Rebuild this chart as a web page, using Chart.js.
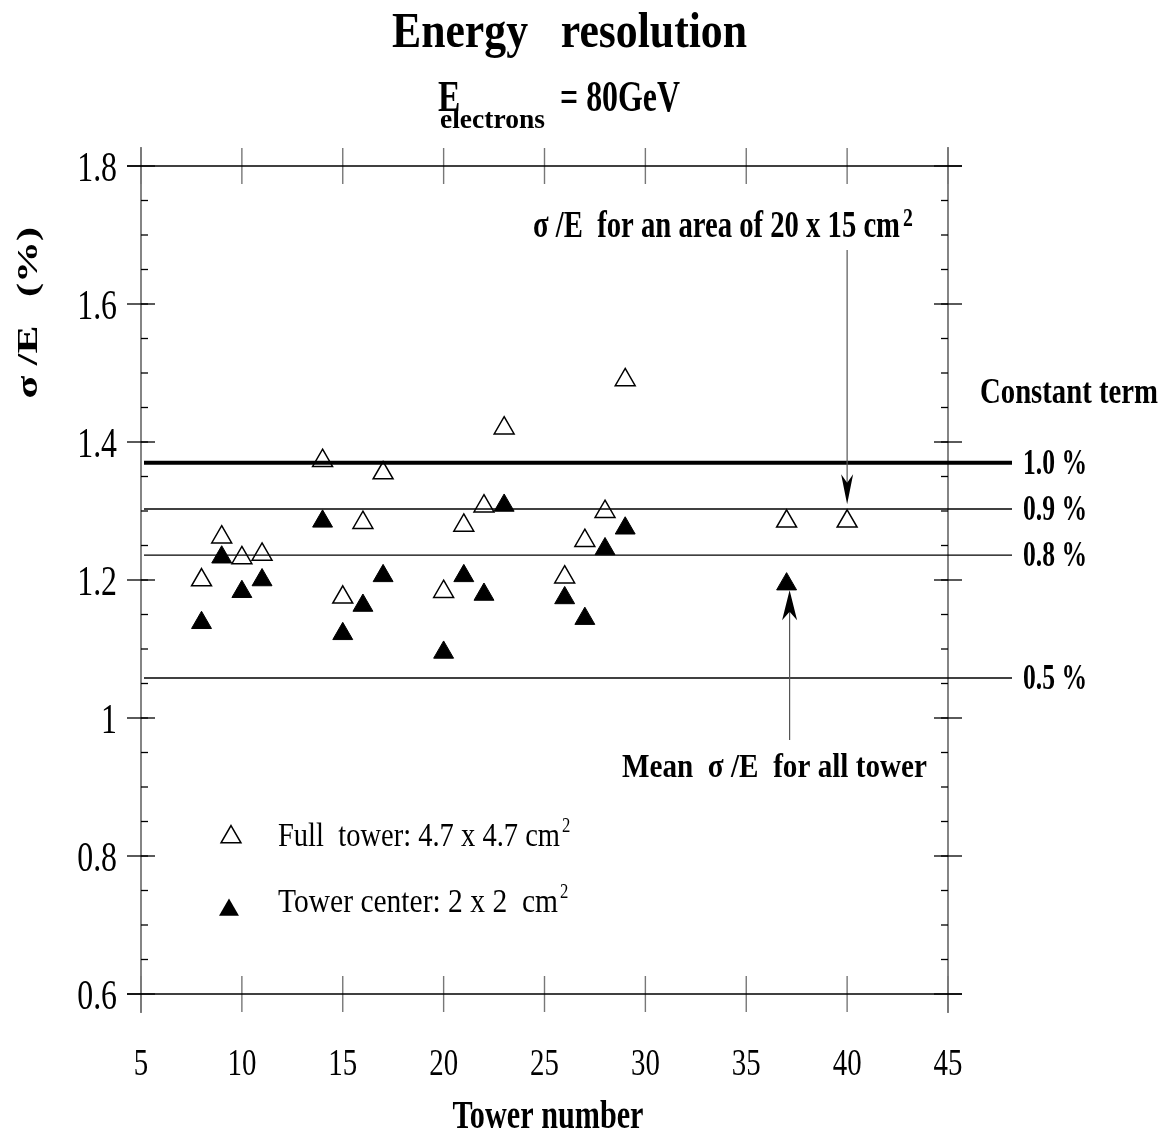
<!DOCTYPE html>
<html>
<head>
<meta charset="utf-8">
<title>Energy resolution</title>
<script src="https://cdn.jsdelivr.net/npm/chart.js@4.4.1/dist/chart.umd.min.js"></script>
<style>
    html, body { margin: 0; padding: 0; background: #ffffff; }
    #wrap { width: 1168px; height: 1137px; position: relative; }
</style>
</head>
<body>
<div id="wrap"><canvas id="resChart" width="1168" height="1137"></canvas></div>
<script>
// Tower numbers and sigma/E (%) values
const fullTowers   = [8, 9, 10, 11, 14, 15, 16, 17, 20, 21, 22, 23, 26, 27, 28, 29, 37, 40];
const fullValues   = [1.200, 1.262, 1.232, 1.237, 1.373, 1.175, 1.283, 1.355, 1.183, 1.279, 1.307, 1.420, 1.204, 1.257, 1.299, 1.490, 1.285, 1.285];
const centerTowers = [8, 9, 10, 11, 14, 15, 16, 17, 20, 21, 22, 23, 26, 27, 28, 29, 37];
const centerValues = [1.138, 1.233, 1.183, 1.200, 1.285, 1.122, 1.163, 1.206, 1.095, 1.206, 1.179, 1.308, 1.174, 1.144, 1.245, 1.275, 1.194];

// Constant term reference lines
const constLevels = [1.370, 1.303, 1.236, 1.058];
const constLabels = ['1.0 %', '0.9 %', '0.8 %', '0.5 %'];

// Axis ticks
const xTicks = [5, 10, 15, 20, 25, 30, 35, 40, 45];
const xTickLabels = ['5', '10', '15', '20', '25', '30', '35', '40', '45'];
const yTicks = [0.6, 0.8, 1.0, 1.2, 1.4, 1.6, 1.8];
const yTickLabels = ['0.6', '0.8', '1', '1.2', '1.4', '1.6', '1.8'];

const SERIF = '"Liberation Serif", "DejaVu Serif", serif';
const SQUEEZE = 0.76;

// draw text squeezed horizontally; w = target width (optional)
function drawText(ctx, s, x, y, size, opts = {}) {
    ctx.save();
    ctx.font = (opts.bold ? 'bold ' : '') + size + 'px ' + SERIF;
    ctx.fillStyle = '#000';
    ctx.textBaseline = 'alphabetic';
    const mw = ctx.measureText(s).width;
    const sx = opts.w ? opts.w / mw : (opts.sx || SQUEEZE);
    const align = opts.align || 'left';
    let x0 = x;
    if (align === 'center') x0 = x - mw * sx / 2;
    if (align === 'right') x0 = x - mw * sx;
    ctx.translate(x0, y);
    ctx.scale(sx, 1);
    ctx.textAlign = 'left';
    ctx.fillText(s, 0, 0);
    ctx.restore();
    return x0 + mw * sx;
}

function line(ctx, x1, y1, x2, y2, color, width) {
    ctx.beginPath();
    ctx.strokeStyle = color;
    ctx.lineWidth = width;
    ctx.moveTo(x1, y1);
    ctx.lineTo(x2, y2);
    ctx.stroke();
}

function arrowHead(ctx, x, tipY, dir, len, half) {
    // dir = 1 pointing down, -1 pointing up
    ctx.beginPath();
    ctx.fillStyle = '#000';
    ctx.moveTo(x, tipY);
    ctx.lineTo(x - half, tipY - dir * len);
    ctx.lineTo(x, tipY - dir * len * 0.72);
    ctx.lineTo(x + half, tipY - dir * len);
    ctx.closePath();
    ctx.fill();
}

const framePlugin = {
    id: 'frame',
    beforeDatasetsDraw(chart) {
        const ctx = chart.ctx;
        const xs = chart.scales.x, ys = chart.scales.y;
        const left = xs.getPixelForValue(5), right = xs.getPixelForValue(45);
        const top = ys.getPixelForValue(1.8), bottom = ys.getPixelForValue(0.6);
        ctx.save();

        // vertical axis lines
        line(ctx, left, top - 19, left, bottom + 19, '#666', 1.6);
        line(ctx, right, top - 19, right, bottom + 19, '#666', 1.6);

        // x tick marks, top and bottom
        xTicks.forEach(v => {
            const px = xs.getPixelForValue(v);
            line(ctx, px, top - 18, px, top + 18, '#777', 1.4);
            line(ctx, px, bottom - 18, px, bottom + 18, '#777', 1.4);
        });

        // y minor ticks
        for (let v = 0.65; v < 1.8; v += 0.05) {
            const py = ys.getPixelForValue(v);
            line(ctx, left, py, left + 7, py, '#000', 1.3);
            line(ctx, right - 7, py, right, py, '#000', 1.3);
        }
        // y major ticks
        yTicks.forEach(v => {
            const py = ys.getPixelForValue(v);
            line(ctx, left - 14, py, left + 14, py, '#000', 1.3);
            line(ctx, right - 14, py, right + 14, py, '#000', 1.3);
        });
        // top / bottom horizontal lines
        line(ctx, left - 14, top, right + 14, top, '#000', 1.4);
        line(ctx, left - 14, bottom, right + 14, bottom, '#000', 1.4);

        // constant term lines
        constLevels.forEach((v, i) => {
            const py = ys.getPixelForValue(v);
            line(ctx, left + 3, py, right + 64, py, '#000', i === 0 ? 4 : 1.4);
            drawText(ctx, constLabels[i], right + 75, py + 11, 35, { bold: true, w: 64 });
        });
        ctx.restore();
    },
    afterDraw(chart) {
        const ctx = chart.ctx;
        const xs = chart.scales.x, ys = chart.scales.y;
        const left = xs.getPixelForValue(5), right = xs.getPixelForValue(45);
        const bottom = ys.getPixelForValue(0.6);
        ctx.save();

        // tick labels
        xTicks.forEach((v, i) => {
            drawText(ctx, xTickLabels[i], xs.getPixelForValue(v), bottom + 81, 38, { align: 'center' });
        });
        yTicks.forEach((v, i) => {
            drawText(ctx, yTickLabels[i], left - 24, ys.getPixelForValue(v) + 15, 43, { align: 'right', sx: 0.74 });
        });

        // titles
        drawText(ctx, 'Energy   resolution', 392, 47, 51, { bold: true, w: 355 });
        drawText(ctx, 'E', 438, 111, 44, { bold: true });
        drawText(ctx, 'electrons', 440, 128, 28, { bold: true, w: 105 });
        drawText(ctx, '= 80GeV', 560, 111, 44, { bold: true, w: 120 });
        drawText(ctx, 'Tower number', 548, 1128, 39, { bold: true, align: 'center', w: 191 });

        // y axis title, rotated
        ctx.save();
        ctx.translate(37, 0);
        ctx.rotate(-Math.PI / 2);
        ctx.scale(1, 0.72);
        ctx.font = 'bold 42px ' + SERIF;
        ctx.fillStyle = '#000';
        ctx.textAlign = 'center';
        ctx.fillText('σ /E', -362, 0);
        ctx.fillText('(%)', -262, 0);
        ctx.restore();

        // right side labels
        drawText(ctx, 'Constant term', 980, 403, 36, { bold: true, w: 178 });

        // upper annotation with arrow
        let ex = drawText(ctx, 'σ /E  for an area of 20 x 15 cm', 533, 237, 38, { bold: true, w: 367 });
        drawText(ctx, '2', ex + 3, 226, 26, { bold: true });
        const ax1 = xs.getPixelForValue(40);
        const tip1 = ys.getPixelForValue(fullValues[fullValues.length - 1]) - 17;
        line(ctx, ax1, 250, ax1, tip1 - 20, '#555', 1.2);
        arrowHead(ctx, ax1, tip1, 1, 30, 6);

        // lower annotation with arrow
        drawText(ctx, 'Mean  σ /E  for all tower', 622, 777, 34, { bold: true, w: 305 });
        const ax2 = xs.getPixelForValue(37) + 3;
        const tip2 = ys.getPixelForValue(centerValues[centerValues.length - 1]) + 6;
        line(ctx, ax2, 740, ax2, tip2 + 20, '#555', 1.2);
        arrowHead(ctx, ax2, tip2, -1, 30, 7.5);

        // legend
        ctx.beginPath();
        drawTri(ctx, 231, 837, false);
        drawTri(ctx, 229, 910, true);
        ex = drawText(ctx, 'Full  tower: 4.7 x 4.7 cm', 278, 846, 34, { w: 282 });
        drawText(ctx, '2', ex + 2, 832, 22);
        ex = drawText(ctx, 'Tower center: 2 x 2  cm', 278, 912, 34, { w: 280 });
        drawText(ctx, '2', ex + 2, 898, 22);
        ctx.restore();
    }
};

function drawTri(ctx, x, y, filled) {
    const r = 11.5;
    ctx.beginPath();
    ctx.moveTo(x, y - r);
    ctx.lineTo(x + r * Math.sin(2 * Math.PI / 3), y + r / 2);
    ctx.lineTo(x - r * Math.sin(2 * Math.PI / 3), y + r / 2);
    ctx.closePath();
    if (filled) {
        ctx.fillStyle = '#000';
        ctx.fill();
    } else {
        ctx.strokeStyle = '#000';
        ctx.lineWidth = 1.5;
        ctx.stroke();
    }
}

const chart = new Chart(document.getElementById('resChart'), {
    type: 'scatter',
    data: {
        datasets: [
            {
                label: 'Full tower: 4.7 x 4.7 cm2',
                data: fullTowers.map((t, i) => ({ x: t, y: fullValues[i] })),
                pointStyle: 'triangle',
                pointRadius: 11.5,
                pointHoverRadius: 11.5,
                backgroundColor: 'rgba(0,0,0,0)',
                borderColor: '#000',
                borderWidth: 1.5
            },
            {
                label: 'Tower center: 2 x 2 cm2',
                data: centerTowers.map((t, i) => ({ x: t, y: centerValues[i] })),
                pointStyle: 'triangle',
                pointRadius: 11.5,
                pointHoverRadius: 11.5,
                backgroundColor: '#000',
                borderColor: '#000',
                borderWidth: 1
            }
        ]
    },
    options: {
        responsive: false,
        animation: false,
        clip: false,
        layout: { padding: { left: 141, right: 220, top: 166, bottom: 143 } },
        scales: {
            x: { type: 'linear', min: 5, max: 45, display: false },
            y: { type: 'linear', min: 0.6, max: 1.8, display: false }
        },
        plugins: {
            legend: { display: false },
            tooltip: { enabled: false }
        }
    },
    plugins: [framePlugin]
});
</script>
</body>
</html>
